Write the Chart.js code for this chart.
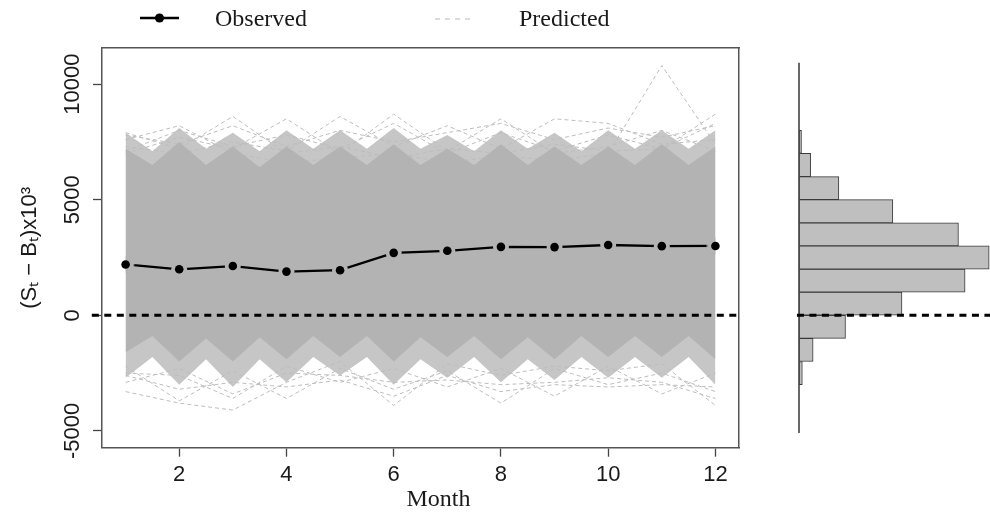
<!DOCTYPE html>
<html><head><meta charset="utf-8">
<script src="https://cdn.jsdelivr.net/npm/chart.js@4.4.1/dist/chart.umd.min.js"></script>
<style>
html,body{margin:0;padding:0;background:#fff;}
#wrap{position:relative;width:990px;height:516px;overflow:hidden;background:#fff;}
#main{position:absolute;left:0;top:0;}
#hist{position:absolute;left:770px;top:0;}
</style></head><body>
<div id="wrap">
<canvas id="main" width="990" height="516"></canvas>
<canvas id="hist" width="220" height="516"></canvas>
</div>
<script>
// ---------------- data ----------------
const months = [1,2,3,4,5,6,7,8,9,10,11,12];
const observed = [2200,1990,2130,1890,1950,2700,2790,2960,2950,3040,2990,3000];
const monthTicks = [2,4,6,8,10,12];
const valueTicks = [-5000,0,5000,10000];

// envelope of the dense cloud of predicted paths (read at each month and mid-month)
const bandX     = [1,1.5,2,2.5,3,3.5,4,4.5,5,5.5,6,6.5,7,7.5,8,8.5,9,9.5,10,10.5,11,11.5,12];
const coreUpper = [7200,6500,7500,6500,7300,6400,7300,6500,7300,6500,7400,6500,7200,6500,7400,6500,7300,6500,7300,6500,7400,6500,7300];
const coreLower = [-1600,-900,-2000,-1000,-2000,-950,-1900,-900,-1800,-900,-2000,-950,-1800,-900,-1900,-950,-1900,-900,-1800,-900,-1800,-900,-1900];
const midUpper  = [7900,7100,8100,7200,7900,7100,8000,7200,8000,7200,8100,7200,7800,7100,8000,7200,7900,7100,8000,7200,8000,7200,8000];
const midLower  = [-2700,-1800,-3000,-1900,-3100,-1900,-2900,-1800,-2600,-1800,-3000,-1900,-2700,-1800,-2900,-1900,-2800,-1800,-2700,-1800,-2700,-1800,-3000];

// individual predicted paths visible at the fringe of the cloud
const predHighA = [7600,8200,7000,6600,6800,7000,6600,6900,6700,7000,10800,7400];
const predHighB = [7900,7200,8600,7000,7300,6800,7200,7000,7400,7100,7200,8700];
const predHighC = [7000,7700,7200,8500,7000,8700,7100,8500,7000,7300,8000,7100];
const predHighD = [7300,7000,7500,7100,8600,7300,8200,7200,8500,8300,7400,7600];
const predHighE = [7100,8000,7300,7800,7200,8300,7000,7900,7100,7800,7200,8300];
const predHighF = [7800,7400,8200,7300,8000,7500,7900,8300,7600,8100,7700,8200];
const predLowA  = [-3300,-3800,-4100,-2900,-2000,-3900,-2100,-2600,-2200,-2400,-2100,-3900];
const predLowB  = [-2500,-2600,-3600,-2200,-2900,-2300,-3100,-2300,-3500,-2200,-3400,-2500];
const predLowC  = [-2200,-3700,-2400,-3600,-2300,-3200,-2400,-3800,-2300,-3000,-2500,-3300];
const predLowD  = [-2900,-2300,-3400,-2500,-2600,-2900,-2800,-3000,-2900,-2700,-2900,-3600];
const predLowE  = [-2600,-3200,-2900,-3100,-2800,-3500,-2600,-3300,-3000,-3100,-3000,-3100];

// histogram of predicted values (bin centres, bin width 1000) and relative frequency (%)
const histBins = [-2500,-1500,-500,500,1500,2500,3500,4500,5500,6500,7500];
const histFreq = [0.4,1.7,5.6,12.4,20.0,22.9,19.2,11.3,4.8,1.4,0.3];
const dataRange = [-5087,10921];
const zeroLevel = 0;

// ---------------- styling ----------------
const GRAY = '#b3b3b3';
const TXT = '#1a1a1a';
const Y_MIN = -5727, Y_MAX = 11561;
const pts = (xs, ys) => xs.map((x, i) => ({x: x, y: ys[i]}));

function obsIcon(){
  const c = document.createElement('canvas'); c.width = 144; c.height = 16;
  const g = c.getContext('2d');
  g.strokeStyle = '#000'; g.lineWidth = 2.5;
  g.beginPath(); g.moveTo(105, 6); g.lineTo(144, 6); g.stroke();
  g.fillStyle = '#000'; g.beginPath(); g.arc(124.5, 6, 4.6, 0, Math.PI*2); g.fill();
  return c;
}
function predIcon(){
  const c = document.createElement('canvas'); c.width = 124; c.height = 16;
  const g = c.getContext('2d');
  g.strokeStyle = '#c4c4c4'; g.lineWidth = 1.2; g.setLineDash([5,5]);
  g.beginPath(); g.moveTo(86, 7); g.lineTo(124, 7); g.stroke();
  return c;
}
function halfDisc(rightSide){
  const c = document.createElement('canvas'); c.width = 18; c.height = 18;
  const g = c.getContext('2d');
  g.fillStyle = GRAY; g.beginPath(); g.moveTo(9, 0);
  if (rightSide) g.arc(9, 9, 8.5, -Math.PI/2, Math.PI/2);
  else g.arc(9, 9, 8.5, -Math.PI/2, Math.PI/2, true);
  g.closePath(); g.fill();
  return c;
}
const OBS_ICON = obsIcon(), PRED_ICON = predIcon(), HALF_R = halfDisc(true), HALF_L = halfDisc(false);

const datasets = [];
datasets.push({label:'Observed', data: pts(months, observed), showLine:false, pointRadius:4.3,
  pointBackgroundColor:'#000', pointBorderWidth:0, order:0});
datasets.push({label:'gap', data: pts(months, observed), showLine:false, pointRadius:8,
  pointStyle: c => c.dataIndex === 0 ? HALF_R : (c.dataIndex === months.length - 1 ? HALF_L : 'circle'),
  pointBackgroundColor: GRAY, pointBorderWidth:0, order:1});
datasets.push({label:'obsLine', data: pts(months, observed), borderColor:'#000', borderWidth:2.3,
  pointRadius:0, order:2});
datasets.push({label:'zero', data:[{x:0.37,y:zeroLevel},{x:12.44,y:zeroLevel}], borderColor:'#000',
  borderWidth:3, borderDash:[7,5.5], pointRadius:0, clip:false, order:3});
// core (index 4 -> 5)
datasets.push({label:'coreU', data: pts(bandX, coreUpper), borderColor:'rgba(0,0,0,0)', borderWidth:0,
  pointRadius:0, fill:5, backgroundColor:GRAY, order:4});
datasets.push({label:'coreL', data: pts(bandX, coreLower), borderColor:'rgba(0,0,0,0)', borderWidth:0,
  pointRadius:0, fill:false, order:4});
// mid (index 6 -> 7)
datasets.push({label:'midU', data: pts(bandX, midUpper), borderColor:'rgba(0,0,0,0)', borderWidth:0,
  pointRadius:0, fill:7, backgroundColor:'#c6c6c6', order:7});
datasets.push({label:'midL', data: pts(bandX, midLower), borderColor:'rgba(0,0,0,0)', borderWidth:0,
  pointRadius:0, fill:false, order:7});
[predHighA,predHighB,predHighC,predHighD,predHighE,predHighF,predLowA,predLowB,predLowC,predLowD,predLowE].forEach(arr => {
  datasets.push({label:'pred', data: pts(months, arr), borderColor:'#bdbdbd', borderWidth:1,
    borderDash:[4,3], pointRadius:0, fill:false, order:5});
});

const legendHeight = {
  id: 'legendHeight',
  beforeInit(chart){
    const lg = chart.legend;
    if (lg) { const f = lg.fit; lg.fit = function(){ f.call(this); this.height = 48; }; }
  }
};

new Chart(document.getElementById('main'), {
  type: 'line',
  data: { datasets: datasets },
  plugins: [legendHeight],
  options: {
    responsive:false, animation:false, events:[],
    layout: { padding: { left:3, right:251, top:0, bottom:0 } },
    plugins: {
      tooltip: { enabled:false },
      legend: {
        display:true, position:'top', align:'start',
        labels: {
          usePointStyle:true, pointStyleWidth:192, padding:8,
          font:{ family:'Liberation Serif', size:24 }, color:TXT,
          generateLabels: () => [
            { text:'Observed', pointStyle:OBS_ICON, fillStyle:'rgba(0,0,0,0)', strokeStyle:'rgba(0,0,0,0)', lineWidth:0, hidden:false, fontColor:TXT, datasetIndex:0 },
            { text:'Predicted', pointStyle:PRED_ICON, fillStyle:'rgba(0,0,0,0)', strokeStyle:'rgba(0,0,0,0)', lineWidth:0, hidden:false, fontColor:TXT, datasetIndex:6 }
          ]
        }
      }
    },
    scales: {
      x: {
        type:'linear', position:'bottom', min:0.56, max:12.44, offset:false,
        afterBuildTicks: s => { s.ticks = monthTicks.map(v => ({value:v})); },
        afterFit: s => { s.height = 68.3; },
        ticks: { font:{family:'Liberation Sans', size:22}, color:TXT, padding:5, maxRotation:0, autoSkip:false,
                 callback: v => String(v) },
        grid: { display:true, drawOnChartArea:false, drawTicks:true, tickLength:9, tickColor:'#444', tickWidth:1.3 },
        border: { display:true, color:'#555', width:1.5 },
        title: { display:true, text:'\u2002\u2002\u2002Month', font:{family:'Liberation Serif', size:24}, color:TXT, padding:{top:0, bottom:2} }
      },
      y: {
        type:'linear', position:'left', min:Y_MIN, max:Y_MAX,
        afterBuildTicks: s => { s.ticks = valueTicks.map(v => ({value:v})); },
        afterFit: s => { s.width = 99; },
        ticks: { font:{family:'Liberation Sans', size:22}, color:TXT, minRotation:90, maxRotation:90, crossAlign:'center', padding:-11,
                 callback: v => String(v) },
        grid: { display:true, drawOnChartArea:false, drawTicks:true, tickLength:9, tickColor:'#444', tickWidth:1.3 },
        border: { display:true, color:'#555', width:1.5 },
        title: { display:true, text:'(Sₜ − Bₜ)x10³', font:{family:'Liberation Sans', size:22}, color:TXT, padding:{top:14, bottom:0} }
      },
      xTop: {
        type:'linear', position:'top', min:0, max:1, display:true,
        ticks:{display:false}, grid:{display:false},
        border:{display:true, color:'#555', width:1.5},
        afterFit: s => { s.height = 0; }
      },
      yRight: {
        type:'linear', position:'right', min:0, max:1, display:true,
        ticks:{display:false}, grid:{display:false},
        border:{display:true, color:'#555', width:1.5},
        afterFit: s => { s.width = 0; }
      }
    }
  }
});

new Chart(document.getElementById('hist'), {
  type: 'bar',
  data: { datasets: [
    { type:'line', data:[{x:-0.25,y:zeroLevel},{x:23,y:zeroLevel}], borderColor:'#000', borderWidth:3,
      borderDash:[7,5.5], pointRadius:0, clip:false, order:0 },
    { type:'line', data:[{x:0,y:dataRange[1]},{x:0,y:dataRange[0]}], borderColor:'#444', borderWidth:1.6,
      pointRadius:0, clip:false, order:1 },
    { type:'bar', indexAxis:'y', data: histBins.map((b, i) => ({x:histFreq[i], y:b})),
      backgroundColor:'#bfbfbf', borderColor:'#3a3a3a', borderWidth:1, borderSkipped:false,
      barPercentage:1, categoryPercentage:1, order:2 }
  ]},
  options: {
    responsive:false, animation:false, events:[],
    layout: { padding: { left:29, right:0, top:48, bottom:68.3 }, autoPadding:false },
    plugins: { legend:{display:false}, tooltip:{enabled:false} },
    scales: {
      x: { type:'linear', min:0, max:23, display:false, offset:false },
      y: { type:'linear', min:Y_MIN, max:Y_MAX, display:false, offset:false,
           afterBuildTicks: s => { s.ticks = histBins.map(v => ({value:v})); } }
    }
  }
});
</script>
</body></html>
